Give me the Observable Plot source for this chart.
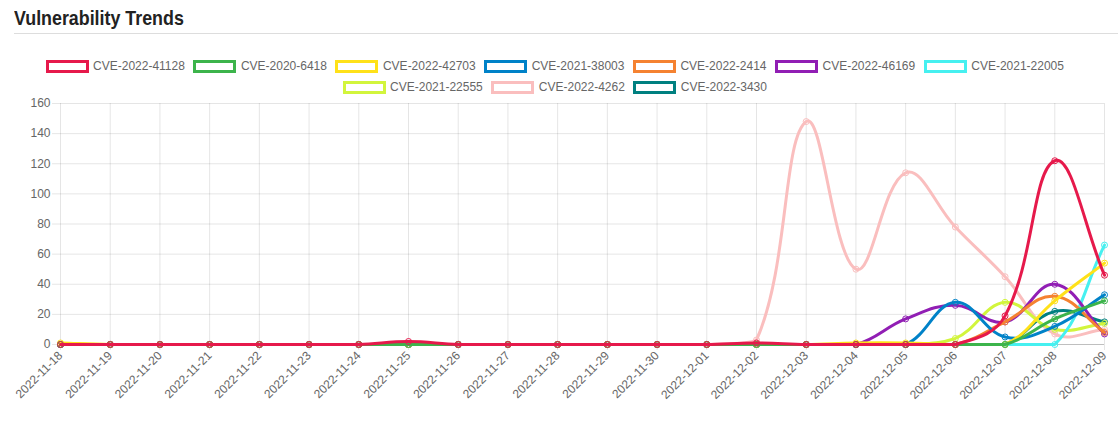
<!DOCTYPE html>
<html><head><meta charset="utf-8">
<script src="https://cdn.jsdelivr.net/npm/d3@7"></script>
<script src="https://cdn.jsdelivr.net/npm/@observablehq/plot@0.6"></script>
<style>
body{margin:0;background:#fff;font-family:"Liberation Sans",Arial,sans-serif;width:1118px;height:428px;overflow:hidden;position:relative;}
#title{position:absolute;left:14px;top:7px;font-size:20.5px;line-height:22px;font-weight:bold;color:#222;transform:scaleX(0.87);transform-origin:left top;white-space:nowrap;}
#rule{position:absolute;left:14px;right:0;top:33px;height:1px;background:#ddd;}
#legend{position:absolute;left:0;width:1118px;top:60px;display:flex;flex-wrap:wrap;justify-content:center;row-gap:8px;}
.item{display:flex;align-items:center;margin-right:8.5px;font-size:12px;line-height:13px;color:#666;}
.box{box-sizing:border-box;width:43px;height:13px;border:3px solid;margin-right:4.5px;background:#fff;}
#chart{position:absolute;left:0;top:95px;}
</style>
</head><body>
<div id="title">Vulnerability Trends</div>
<div id="rule"></div>
<div id="legend"></div>
<div id="chart"></div>
<script>
const dates = ["2022-11-18","2022-11-19","2022-11-20","2022-11-21","2022-11-22","2022-11-23","2022-11-24","2022-11-25","2022-11-26","2022-11-27","2022-11-28","2022-11-29","2022-11-30","2022-12-01","2022-12-02","2022-12-03","2022-12-04","2022-12-05","2022-12-06","2022-12-07","2022-12-08","2022-12-09"];
const names = ["CVE-2022-41128","CVE-2020-6418","CVE-2022-42703","CVE-2021-38003","CVE-2022-2414","CVE-2022-46169","CVE-2021-22005","CVE-2021-22555","CVE-2022-4262","CVE-2022-3430"];
const colors = ["#e6194b","#3cb44b","#ffe119","#0082c8","#f58231","#911eb4","#46f0f0","#d2f53c","#fabebe","#008080"];
const cve_2022_41128 = [0,0,0,0,0,0,0,2,0,0,0,0,0,0,1,0,0,0,0,19,122,46];
const cve_2020_6418  = [0,0,0,0,0,0,0,0,0,0,0,0,0,0,0,0,0,0,0,0,17,29];
const cve_2022_42703 = [1,0,0,0,0,0,0,0,0,0,0,0,0,0,0,0,1,1,0,0,29,54];
const cve_2021_38003 = [0,0,0,0,0,0,0,0,0,0,0,0,0,0,0,0,0,0,28,5,12,33];
const cve_2022_2414  = [0,0,0,0,0,0,0,0,0,0,0,0,0,0,0,0,0,0,0,15,32,8];
const cve_2022_46169 = [0,0,0,0,0,0,0,0,0,0,0,0,0,0,0,0,0,17,26,15,40,7];
const cve_2021_22005 = [0,0,0,0,0,0,0,0,0,0,0,0,0,0,0,0,0,0,0,0,0,66];
const cve_2021_22555 = [0,0,0,0,0,0,0,0,0,0,0,0,0,0,0,0,0,0,4,28,10,14];
const cve_2022_4262  = [0,0,0,0,0,0,0,0,0,0,0,0,0,0,3,148,50,114,78,45,7,10];
const cve_2022_3430  = [0,0,0,0,0,0,0,0,0,0,0,0,0,0,0,0,0,0,0,0,22,15];
const yTicks = [0,20,40,60,80,100,120,140,160];

const seriesValues = [cve_2022_41128,cve_2020_6418,cve_2022_42703,cve_2021_38003,cve_2022_2414,cve_2022_46169,cve_2021_22005,cve_2021_22555,cve_2022_4262,cve_2022_3430];

// layout
const W = 1118, H = 333, ML = 60, MR = 14, MT = 8, MB = 84;

// legend
const legend = document.getElementById("legend");
names.forEach((n,i)=>{
  const it = document.createElement("div"); it.className="item";
  const b = document.createElement("div"); b.className="box"; b.style.borderColor=colors[i];
  const t = document.createElement("span"); t.textContent=n;
  it.appendChild(b); it.appendChild(t); legend.appendChild(it);
});

// spline with tension 0.4 and control points capped to the plot area
function makeSplineCurve(tension, x0, x1, y0, y1) {
  const cap = (v, lo, hi) => Math.max(Math.min(v, hi), lo);
  function C(context){ this._context = context; }
  C.prototype = {
    areaStart(){}, areaEnd(){},
    lineStart(){ this._pts = []; },
    point(x, y){ this._pts.push([+x, +y]); },
    lineEnd(){
      const p = this._pts, n = p.length, ctx = this._context;
      if (!n) return;
      const cps = p.map((cur, i) => {
        const prev = p[Math.max(i-1, 0)], next = p[Math.min(i+1, n-1)];
        const d01 = Math.hypot(cur[0]-prev[0], cur[1]-prev[1]);
        const d12 = Math.hypot(next[0]-cur[0], next[1]-cur[1]);
        let s01 = d01/(d01+d12), s12 = d12/(d01+d12);
        if (isNaN(s01)) s01 = 0; if (isNaN(s12)) s12 = 0;
        const fa = tension*s01, fb = tension*s12;
        return {
          px: cap(cur[0]-fa*(next[0]-prev[0]), x0, x1), py: cap(cur[1]-fa*(next[1]-prev[1]), y0, y1),
          nx: cap(cur[0]+fb*(next[0]-prev[0]), x0, x1), ny: cap(cur[1]+fb*(next[1]-prev[1]), y0, y1)
        };
      });
      ctx.moveTo(p[0][0], p[0][1]);
      for (let i = 1; i < n; i++) {
        ctx.bezierCurveTo(cps[i-1].nx, cps[i-1].ny, cps[i].px, cps[i].py, p[i][0], p[i][1]);
      }
    }
  };
  return (context) => new C(context);
}
const spline = makeSplineCurve(0.4, ML, W-MR, MT, H-MB);

const seriesMarks = [];
for (let i = names.length-1; i >= 0; i--) {
  const data = dates.map((d,j)=>({date:d, value:seriesValues[i][j]}));
  seriesMarks.push(Plot.line(data, {x:"date", y:"value", stroke:colors[i], strokeWidth:3, curve:spline}));
  seriesMarks.push(Plot.dot(data, {x:"date", y:"value", r:3, stroke:colors[i], strokeWidth:1, fill:"none"}));
}

const chart = Plot.plot({
  width:W, height:H,
  marginLeft:ML, marginRight:MR, marginTop:MT, marginBottom:MB,
  style:{fontFamily:"'Liberation Sans', Arial, sans-serif", fontSize:"12px", color:"#666", background:"transparent"},
  x:{type:"point", domain:dates, padding:0, round:false},
  y:{domain:[0,160], ticks:yTicks},
  marks:[
    Plot.gridX({stroke:"#000", strokeOpacity:0.1, strokeWidth:1}),
    Plot.gridY(yTicks.filter(d=>d>0), {stroke:"#000", strokeOpacity:0.1, strokeWidth:1}),
    Plot.ruleY([0], {stroke:"#000", strokeOpacity:0.25}),
    Plot.axisY({ticks:yTicks, tickSize:8, tickPadding:2, stroke:"#e6e6e6", fill:"#666", fontSize:12, label:null}),
    Plot.axisX({tickRotate:-45, tickSize:6, tickPadding:3, stroke:"#e6e6e6", fill:"#666", fontSize:12, label:null}),
    ...seriesMarks
  ]
});
document.getElementById("chart").appendChild(chart);
</script>
</body></html>
